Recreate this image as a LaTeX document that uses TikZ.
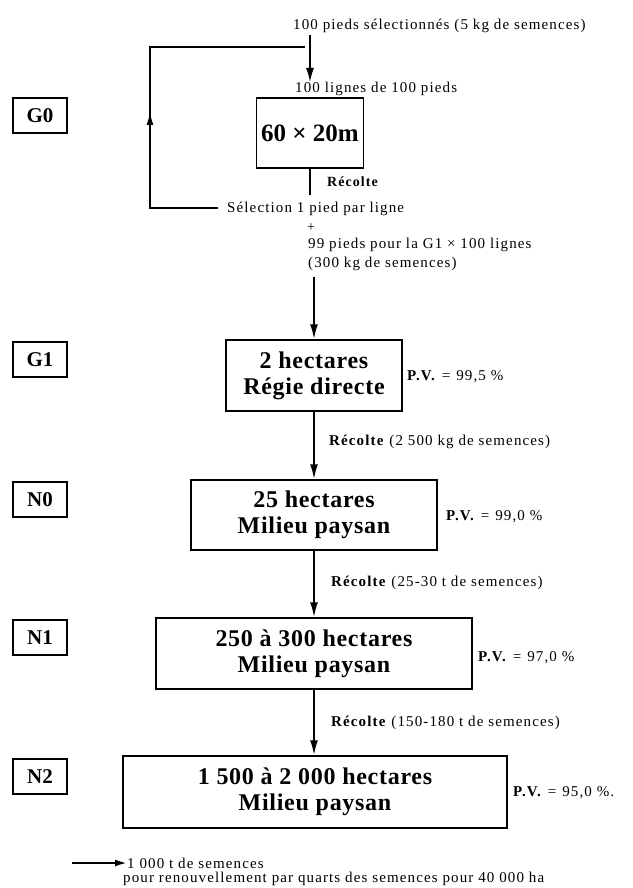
\documentclass[tikz,border=0pt]{standalone}
\usepackage{fontspec}
\setmainfont{Liberation Serif}
\newfontfamily\smallf[LetterSpace=7.5]{Liberation Serif}
\newfontfamily\bigf[LetterSpace=3]{Liberation Serif}
\usetikzlibrary{arrows.meta}
\tikzset{
  bigbox/.style={draw, line width=1.5pt, inner sep=0pt, align=center,
    font=\bigf\fontsize{24}{26}\selectfont\bfseries},
  lab/.style={draw, line width=1.3pt, inner sep=0pt, minimum width=54pt, minimum height=35pt,
    font=\fontsize{21}{24}\selectfont\bfseries},
  txt/.style={inner sep=0pt, anchor=west, font=\smallf\fontsize{15}{18}\selectfont},
  arr/.style={line width=2pt, -{Latex[length=15pt,width=8pt]}},
  plain/.style={line width=1.6pt},
}
\newcommand{\eqsp}{\hspace{6pt}=\hspace{6pt}}
\begin{document}
\begin{tikzpicture}[x=1pt,y=-1pt]
\useasboundingbox (0,0) rectangle (632,888);
% labels
\node[lab] (G0) at (40,115.5) {G0};
\node[lab] (G1) at (40,359.5) {G1};
\node[lab] (N0) at (40,499.5) {N0};
\node[lab] (N1) at (40,637.5) {N1};
\node[lab] (N2) at (40,776.5) {N2};
% G0 stage
\node[txt] (t0) at (293,26) {100 pieds sélectionnés (5 kg de semences)};
\node[txt] (t1) at (295,89) {100 lignes de 100 pieds};
\node[bigbox, minimum width=107pt, minimum height=70pt, font=\fontsize{25}{29}\selectfont\bfseries] (b0) at (310,133) {60 × 20m};
\node[txt, font=\smallf\fontsize{14}{17}\selectfont\bfseries] (r0) at (327,182) {Récolte};
\node[txt] (sel) at (227,209) {Sélection 1 pied par ligne};
\node[inner sep=0pt, font=\fontsize{14}{15}\selectfont] (plus) at (311,228) {+};
\node[txt] (t2) at (308,245) {99 pieds pour la G1 × 100 lignes};
\node[txt] (t3) at (308,264) {(300 kg de semences)};
\coordinate (a0) at (310,35);
\coordinate (a1) at (310,83);
\coordinate (b0end) at (310,195);
\coordinate (lp1) at (305,47);
\coordinate (lp2) at (150,47);
\coordinate (lp3) at (150,208);
\coordinate (lp4) at (218,208);
\coordinate (lpm) at (150,112);
\draw[arr, line width=2.4pt] (a0) -- (a1);
\draw[plain] (b0.south) -- (b0end);
\draw[plain] (lpm) -- (lp2) -- (lp1);
\draw[plain] (lp4) -- (lp3) -- (lpm);
\draw[line width=1.6pt, -{Latex[length=13pt,width=7pt]}] (lp3) -- (lpm);
% main chain
\node[bigbox, minimum width=176pt, minimum height=71pt] (g1) at (314,375.5) {2 hectares\\Régie directe};
\node[bigbox, minimum width=246pt, minimum height=70pt] (n0) at (314,515) {25 hectares\\Milieu paysan};
\node[bigbox, minimum width=316pt, minimum height=71pt] (n1) at (314,653.5) {250 à 300 hectares\\Milieu paysan};
\node[bigbox, minimum width=384pt, minimum height=72pt] (n2) at (315,792) {1 500 à 2 000 hectares\\Milieu paysan};
\coordinate (a2) at (314,277);
\draw[arr] (a2) -- (g1.north);
\draw[arr] (g1.south) -- (n0.north);
\draw[arr] (n0.south) -- (n1.north);
\draw[arr] (n1.south) -- (n1.south |- n2.north);
\node[txt] (rc1) at (329,442) {\textbf{Récolte} (2 500 kg de semences)};
\node[txt] (rc2) at (331,583) {\textbf{Récolte} (25-30 t de semences)};
\node[txt] (rc3) at (331,723) {\textbf{Récolte} (150-180 t de semences)};
\node[txt] (pv1) at (407,377) {\textbf{P.V.}\eqsp 99,5 \%};
\node[txt] (pv2) at (446,517) {\textbf{P.V.}\eqsp 99,0 \%};
\node[txt] (pv3) at (478,658) {\textbf{P.V.}\eqsp 97,0 \%};
\node[txt] (pv4) at (513,793) {\textbf{P.V.}\eqsp 95,0 \%.};
% legend
\node[txt] (lg1) at (127,863) {1 000 t de semences};
\node[txt] (lg2) at (123,879) {pour renouvellement par quarts des semences pour 40 000 ha};
\coordinate (lg0) at (72,863);
\draw[line width=2pt, -{Latex[length=12pt,width=7pt]}] (lg0) -- (lg0 -| lg1.west);
\end{tikzpicture}
\end{document}
